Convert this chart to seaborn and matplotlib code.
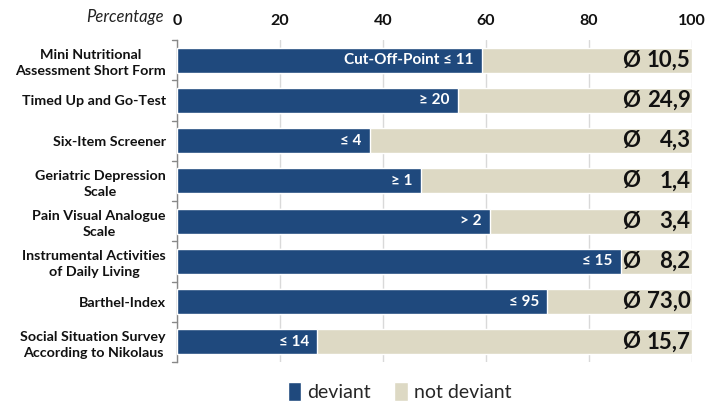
import matplotlib
matplotlib.use("Agg")
import matplotlib.pyplot as plt
import seaborn as sns
import pandas as pd
from matplotlib.patches import Patch

categories = [
    "Mini Nutritional\nAssessment Short Form",
    "Timed Up and Go-Test",
    "Six-Item Screener",
    "Geriatric Depression\nScale",
    "Pain Visual Analogue\nScale",
    "Instrumental Activities\nof Daily Living",
    "Barthel-Index",
    "Social Situation Survey\nAccording to Nikolaus",
]
deviant = [59.2, 54.5, 37.5, 47.4, 60.8, 86.2, 71.9, 27.2]
cutoff_labels = ["Cut-Off-Point \u2264 11", "\u2265 20", "\u2264 4", "\u2265 1", "> 2", "\u2264 15", "\u2264 95", "\u2264 14"]
mean_values = ["10,5", "24,9", "4,3", "1,4", "3,4", "8,2", "73,0", "15,7"]
x_ticks = [0, 20, 40, 60, 80, 100]

dark = "#1F497D"
light = "#DDD9C4"

sns.set_theme(style="white")
plt.rcParams["font.family"] = ["Lato", "DejaVu Sans"]

df = pd.DataFrame({"cat": categories, "deviant": deviant, "total": [100] * len(categories)})

fig = plt.figure(figsize=(7.07, 4.03), dpi=100)
ax = fig.add_axes([0.2504, 0.1017, 0.9788 - 0.2504, 0.9007 - 0.1017])

sns.barplot(data=df, y="cat", x="total", color=light, orient="h", width=0.62, ax=ax, saturation=1, zorder=2)
sns.barplot(data=df, y="cat", x="deviant", color=dark, orient="h", width=0.62, ax=ax, saturation=1, zorder=3)

ax.set_xlim(0, 100)
ax.set_ylim(len(categories) - 0.5, -0.5)
ax.set_xticks(x_ticks)
ax.xaxis.tick_top()
ax.set_xticklabels([str(t) for t in x_ticks], fontsize=11.5, fontweight="bold", color="#111111")
ax.tick_params(axis="x", length=0, pad=9)
ax.set_xlabel("")
ax.set_ylabel("")
ax.grid(axis="x", color="#d9d9d9", linewidth=1, zorder=0)
ax.set_axisbelow(True)

ax.set_yticks(range(len(categories)))
ax.set_yticklabels(categories, fontsize=10.3, fontweight="bold", color="#111111",
                   multialignment="center", linespacing=1.4)
ax.tick_params(axis="y", length=0, pad=8)
for b in [i - 0.5 for i in range(len(categories) + 1)]:
    ax.plot([-0.9, 0], [b, b], color="#888888", lw=1, clip_on=False, zorder=4)

for s in ["top", "right", "bottom"]:
    ax.spines[s].set_visible(False)
ax.spines["left"].set_color("#888888")
ax.spines["left"].set_linewidth(1)

for i, (v, lab, m) in enumerate(zip(deviant, cutoff_labels, mean_values)):
    ax.annotate(lab, xy=(v, i), xytext=(-6, 0), textcoords="offset points",
                ha="right", va="center", color="white", fontsize=11, fontweight="bold", zorder=5)
    ax.annotate(m, xy=(100, i), xytext=(-1, 0), textcoords="offset points",
                ha="right", va="center", color="#111111", fontsize=16, fontweight="bold", zorder=5)
    ax.annotate("\u00d8", xy=(86.4, i), xytext=(0, 0), textcoords="offset points",
                ha="left", va="center", color="#111111", fontsize=16, fontweight="bold", zorder=5)

fig.text(0.232, 0.957, "Percentage", ha="right", va="center", fontsize=12, style="italic", color="#222222")

handles = [Patch(facecolor=dark, label="deviant"), Patch(facecolor=light, label="not deviant")]
fig.legend(handles=handles, loc="center", bbox_to_anchor=(0.565, 0.028), ncol=2, frameon=False,
           fontsize=14, handlelength=0.7, handleheight=1.1, handletextpad=0.3, columnspacing=1.2)

fig.savefig("out.png", dpi=100)
